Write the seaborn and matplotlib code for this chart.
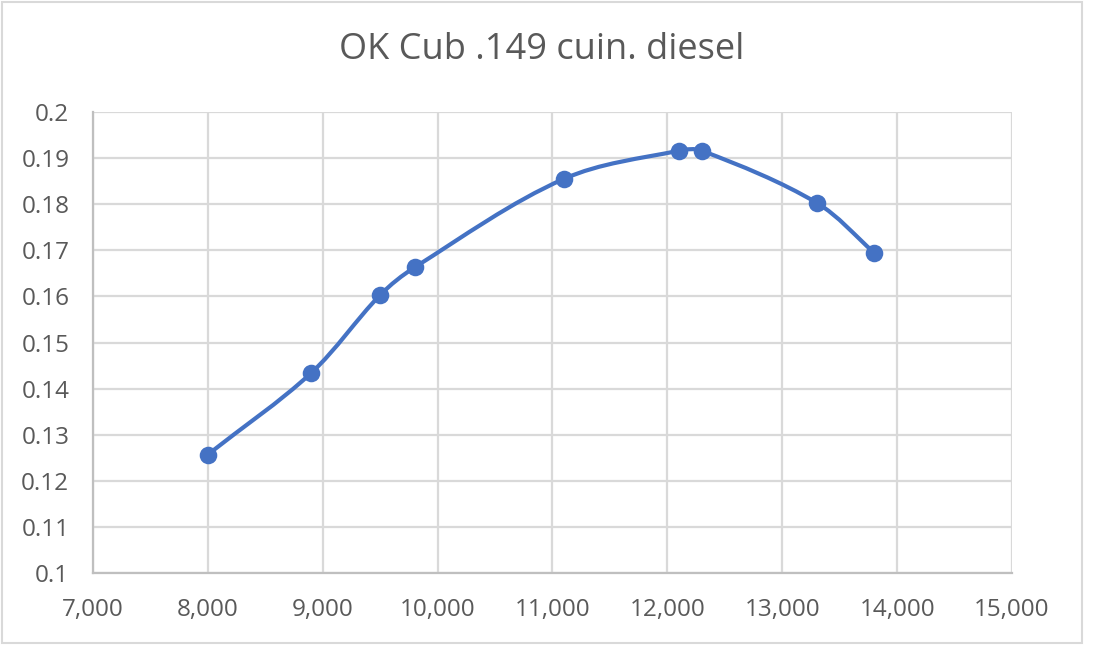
#!/usr/bin/python3
# Recreate "OK Cub .149 cuin. diesel" chart

# Imports
import numpy
import pandas
import matplotlib
matplotlib.use("Agg")
import matplotlib.pyplot as plt
from matplotlib.path import Path
from matplotlib.patches import PathPatch, Rectangle
import seaborn as sns

#############
# Data      #
#############
rpm = [8000, 8900, 9500, 9800, 11100, 12100, 12300, 13300, 13800]
value = [0.1257, 0.1434, 0.1603, 0.1663, 0.1855, 0.1916, 0.1916, 0.1803, 0.1695]

x_ticks = [7000, 8000, 9000, 10000, 11000, 12000, 13000, 14000, 15000]
y_ticks = [0.1, 0.11, 0.12, 0.13, 0.14, 0.15, 0.16, 0.17, 0.18, 0.19, 0.2]

title = "OK Cub .149 cuin. diesel"

df = pandas.DataFrame({"rpm": rpm, "value": value})

# Style
sns.set_style("white")
plt.rcParams["font.family"] = ["Open Sans", "DejaVu Sans"]
LINE_COLOR = "#4472C4"
GRID_COLOR = "#d9d9d9"
TEXT_COLOR = "#595959"

fig = plt.figure(figsize=[11, 6.62], dpi=100)
ax = fig.add_axes([0.0845, 0.1344, 0.8355, 0.6964])
ax.set_xlim(7000, 15000)
ax.set_ylim(0.1, 0.2)

# Smoothed line (Excel-like bezier), control points sized per segment
# length in screen units so short segments do not overshoot
sx = (1012 - 93) / 8000.0
sy = (573 - 112) / 0.1
pts = df[["rpm", "value"]].to_numpy(dtype=float) * [sx, sy]
n = len(pts)
tangents = []
for i in range(n):
    a = pts[max(i - 1, 0)]
    b = pts[min(i + 1, n - 1)]
    d = b - a
    tangents.append(d / numpy.hypot(*d))
verts = [pts[0]]
codes = [Path.MOVETO]
for i in range(n - 1):
    seg = numpy.hypot(*(pts[i + 1] - pts[i]))
    c1 = pts[i] + tangents[i] * seg / 3.0
    c2 = pts[i + 1] - tangents[i + 1] * seg / 3.0
    verts += [c1, c2, pts[i + 1]]
    codes += [Path.CURVE4] * 3
verts = numpy.array(verts) / [sx, sy]
ax.add_patch(PathPatch(Path(verts, codes), facecolor="none",
                       edgecolor=LINE_COLOR, linewidth=3.0,
                       capstyle="round", joinstyle="round", zorder=3))

# Markers
sns.scatterplot(data=df, x="rpm", y="value", ax=ax, color=LINE_COLOR,
                s=160, edgecolor=LINE_COLOR, linewidth=0, zorder=4)

############
# Decorate #
############
ax.set_xlim(7000, 15000)
ax.set_ylim(0.1, 0.2)
ax.set_xticks(x_ticks)
ax.set_xticklabels([f"{t:,}" for t in x_ticks])
ax.set_yticks(y_ticks)
ax.set_yticklabels([f"{t:g}" for t in y_ticks])
ax.tick_params(axis="both", length=0, labelsize=17.5, labelcolor=TEXT_COLOR)
ax.tick_params(axis="x", pad=18)
ax.tick_params(axis="y", pad=17)
ax.grid(True, color=GRID_COLOR, linewidth=1.6)
ax.set_axisbelow(True)
ax.set_xlabel("")
ax.set_ylabel("")
for side in ["top", "right"]:
    ax.spines[side].set_visible(False)
for side in ["left", "bottom"]:
    ax.spines[side].set_color("#bfbfbf")
    ax.spines[side].set_linewidth(1.6)

# Title
fig.text(542 / 1100, 1 - 50 / 662, title, ha="center", va="center",
         fontsize=26, color=TEXT_COLOR)

# Chart border
fig.patches.append(Rectangle((2 / 1100, 1 - 643 / 662), 1080 / 1100, 641 / 662,
                             transform=fig.transFigure, fill=False,
                             edgecolor=GRID_COLOR, linewidth=1.5))

plt.savefig("out.png", dpi=100)
